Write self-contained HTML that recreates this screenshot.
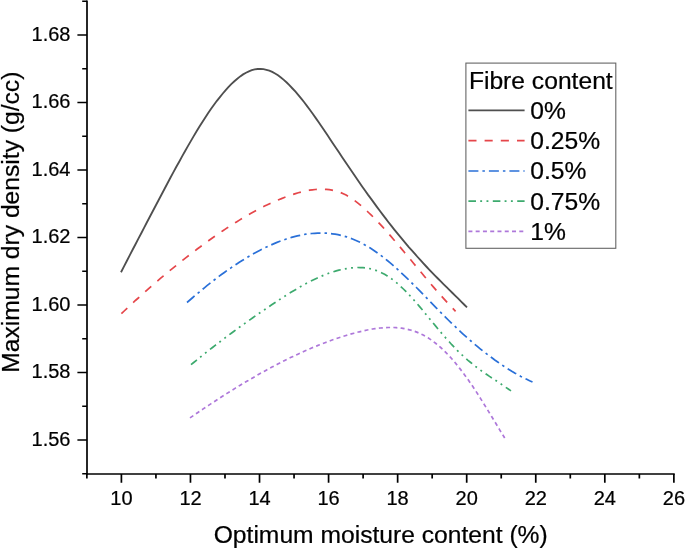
<!DOCTYPE html>
<html><head><meta charset="utf-8"><title>Compaction curves</title>
<style>
html,body{margin:0;padding:0;background:#fff;}
body{width:685px;height:550px;overflow:hidden;}
svg{display:block;}
text{font-family:"Liberation Sans",Arial,sans-serif;fill:#000;stroke:#000;stroke-width:0.22px;}
</style></head><body>
<svg width="685" height="550" viewBox="0 0 685 550">
<rect width="685" height="550" fill="#fff"/>

<g stroke="#000" stroke-width="1.7" fill="none" stroke-linecap="butt">
<path d="M87.0,0.40 V474.85"/>
<path d="M86.15,474.0 H674.73"/>
<path d="M87.0,473.75 h-4.8 M87.0,440.00 h-9.6 M87.0,406.25 h-4.8 M87.0,372.50 h-9.6 M87.0,338.75 h-4.8 M87.0,305.00 h-9.6 M87.0,271.25 h-4.8 M87.0,237.50 h-9.6 M87.0,203.75 h-4.8 M87.0,170.00 h-9.6 M87.0,136.25 h-4.8 M87.0,102.50 h-9.6 M87.0,68.75 h-4.8 M87.0,35.00 h-9.6 M87.0,1.25 h-4.8 M86.87,474.0 v4.4 M121.40,474.0 v8.8 M155.93,474.0 v4.4 M190.46,474.0 v8.8 M224.99,474.0 v4.4 M259.52,474.0 v8.8 M294.05,474.0 v4.4 M328.58,474.0 v8.8 M363.11,474.0 v4.4 M397.64,474.0 v8.8 M432.17,474.0 v4.4 M466.70,474.0 v8.8 M501.23,474.0 v4.4 M535.76,474.0 v8.8 M570.29,474.0 v4.4 M604.82,474.0 v8.8 M639.35,474.0 v4.4 M673.88,474.0 v8.8"/>
</g>
<g font-size="20">
<text x="70.5" y="445.9" text-anchor="end">1.56</text>
<text x="70.5" y="378.4" text-anchor="end">1.58</text>
<text x="70.5" y="310.9" text-anchor="end">1.60</text>
<text x="70.5" y="243.4" text-anchor="end">1.62</text>
<text x="70.5" y="175.9" text-anchor="end">1.64</text>
<text x="70.5" y="108.4" text-anchor="end">1.66</text>
<text x="70.5" y="40.9" text-anchor="end">1.68</text>
<text x="121.4" y="505.4" text-anchor="middle">10</text>
<text x="190.5" y="505.4" text-anchor="middle">12</text>
<text x="259.5" y="505.4" text-anchor="middle">14</text>
<text x="328.6" y="505.4" text-anchor="middle">16</text>
<text x="397.6" y="505.4" text-anchor="middle">18</text>
<text x="466.7" y="505.4" text-anchor="middle">20</text>
<text x="535.8" y="505.4" text-anchor="middle">22</text>
<text x="604.8" y="505.4" text-anchor="middle">24</text>
<text x="673.9" y="505.4" text-anchor="middle">26</text>
</g>
<text transform="translate(380.7,542.7) scale(1.058,1)" font-size="23.3" text-anchor="middle">Optimum moisture content (%)</text>
<text transform="translate(18.6,222.2) rotate(-90) scale(1.058,1)" font-size="23.3" text-anchor="middle">Maximum dry density (g/cc)</text>
<path d="M121.0,272.2 L123.9,266.6 L126.8,261.0 L129.7,255.4 L132.6,249.8 L135.5,244.2 L138.4,238.6 L141.4,233.0 L144.3,227.4 L147.2,221.8 L150.1,216.3 L153.0,210.8 L155.9,205.2 L158.8,199.7 L161.7,194.2 L164.6,188.7 L167.5,183.2 L170.4,177.8 L173.3,172.4 L176.2,167.0 L179.2,161.7 L182.1,156.4 L185.0,151.2 L187.9,146.1 L190.8,141.1 L193.7,136.1 L196.6,131.3 L199.5,126.5 L202.4,121.9 L205.3,117.4 L208.2,113.0 L211.1,108.8 L214.0,104.7 L216.9,100.8 L219.9,97.1 L222.8,93.5 L225.7,90.1 L228.6,86.9 L231.5,83.9 L234.4,81.2 L237.3,78.7 L240.2,76.4 L243.1,74.4 L246.0,72.7 L248.9,71.3 L251.8,70.2 L254.7,69.4 L257.7,69.0 L260.6,69.0 L263.5,69.2 L266.4,69.8 L269.3,70.7 L272.2,71.9 L275.1,73.5 L278.0,75.3 L280.9,77.5 L283.8,79.9 L286.7,82.5 L289.6,85.4 L292.5,88.5 L295.5,91.7 L298.4,95.1 L301.3,98.6 L304.2,102.3 L307.1,106.1 L310.0,110.0 L312.9,114.0 L315.8,118.1 L318.7,122.3 L321.6,126.5 L324.5,130.8 L327.4,135.1 L330.3,139.5 L333.3,143.9 L336.2,148.2 L339.1,152.6 L342.0,156.9 L344.9,161.3 L347.8,165.6 L350.7,169.8 L353.6,174.1 L356.5,178.3 L359.4,182.5 L362.3,186.7 L365.2,190.8 L368.1,194.9 L371.1,198.9 L374.0,202.9 L376.9,206.9 L379.8,210.8 L382.7,214.6 L385.6,218.4 L388.5,222.2 L391.4,225.9 L394.3,229.6 L397.2,233.2 L400.1,236.7 L403.0,240.2 L405.9,243.7 L408.8,247.1 L411.8,250.4 L414.7,253.7 L417.6,257.0 L420.5,260.2 L423.4,263.4 L426.3,266.5 L429.2,269.6 L432.1,272.6 L435.0,275.6 L437.9,278.5 L440.8,281.4 L443.7,284.3 L446.6,287.2 L449.6,290.1 L452.5,293.0 L455.4,295.8 L458.3,298.7 L461.2,301.6 L464.1,304.5 L467.0,307.4" fill="none" stroke="#4f4f4f" stroke-width="1.85"/>
<path d="M121.4,313.7 L124.2,311.0 L127.0,308.4 L129.8,305.7 L132.6,303.1 L135.4,300.5 L138.3,298.0 L141.1,295.4 L143.9,292.9 L146.7,290.4 L149.5,287.9 L152.3,285.4 L155.1,283.0 L157.9,280.6 L160.7,278.2 L163.5,275.8 L166.3,273.5 L169.1,271.1 L172.0,268.8 L174.8,266.6 L177.6,264.3 L180.4,262.0 L183.2,259.8 L186.0,257.6 L188.8,255.5 L191.6,253.3 L194.4,251.2 L197.2,249.0 L200.0,247.0 L202.8,244.9 L205.7,242.8 L208.5,240.8 L211.3,238.8 L214.1,236.8 L216.9,234.8 L219.7,232.9 L222.5,231.0 L225.3,229.1 L228.1,227.3 L230.9,225.4 L233.7,223.6 L236.5,221.9 L239.4,220.1 L242.2,218.4 L245.0,216.8 L247.8,215.1 L250.6,213.5 L253.4,212.0 L256.2,210.5 L259.0,209.0 L261.8,207.5 L264.6,206.1 L267.4,204.8 L270.2,203.4 L273.1,202.2 L275.9,200.9 L278.7,199.7 L281.5,198.6 L284.3,197.5 L287.1,196.4 L289.9,195.4 L292.7,194.5 L295.5,193.6 L298.3,192.8 L301.1,192.0 L303.9,191.3 L306.8,190.7 L309.6,190.2 L312.4,189.8 L315.2,189.5 L318.0,189.3 L320.8,189.2 L323.6,189.3 L326.4,189.4 L329.2,189.7 L332.0,190.2 L334.8,190.8 L337.6,191.5 L340.5,192.5 L343.3,193.7 L346.1,195.1 L348.9,196.7 L351.7,198.5 L354.5,200.5 L357.3,202.7 L360.1,204.9 L362.9,207.3 L365.7,209.9 L368.5,212.5 L371.3,215.2 L374.2,218.0 L377.0,220.9 L379.8,223.9 L382.6,226.9 L385.4,230.0 L388.2,233.2 L391.0,236.4 L393.8,239.7 L396.6,242.9 L399.4,246.3 L402.2,249.6 L405.0,253.0 L407.9,256.4 L410.7,259.8 L413.5,263.2 L416.3,266.6 L419.1,270.0 L421.9,273.3 L424.7,276.7 L427.5,280.0 L430.3,283.4 L433.1,286.6 L435.9,289.9 L438.7,293.1 L441.6,296.3 L444.4,299.4 L447.2,302.5 L450.0,305.5 L452.8,308.4 L455.6,311.3" fill="none" stroke="#E5464A" stroke-width="1.7" stroke-dasharray="8.1 8.1"/>
<path d="M187.0,302.5 L189.9,300.0 L192.8,297.5 L195.7,295.0 L198.6,292.6 L201.5,290.2 L204.4,287.8 L207.3,285.4 L210.2,283.1 L213.1,280.9 L216.0,278.6 L218.9,276.4 L221.8,274.3 L224.7,272.2 L227.6,270.1 L230.6,268.1 L233.5,266.1 L236.4,264.2 L239.3,262.3 L242.2,260.5 L245.1,258.7 L248.0,256.9 L250.9,255.2 L253.8,253.6 L256.7,252.0 L259.6,250.5 L262.5,249.0 L265.4,247.6 L268.3,246.2 L271.2,244.9 L274.1,243.6 L277.0,242.4 L279.9,241.3 L282.8,240.2 L285.7,239.2 L288.6,238.3 L291.5,237.4 L294.4,236.6 L297.3,235.9 L300.2,235.3 L303.1,234.7 L306.0,234.2 L308.9,233.8 L311.8,233.5 L314.7,233.3 L317.7,233.1 L320.6,233.1 L323.5,233.1 L326.4,233.2 L329.3,233.5 L332.2,233.8 L335.1,234.2 L338.0,234.7 L340.9,235.4 L343.8,236.1 L346.7,236.9 L349.6,237.9 L352.5,239.0 L355.4,240.2 L358.3,241.5 L361.2,242.9 L364.1,244.4 L367.0,246.1 L369.9,247.8 L372.8,249.7 L375.7,251.7 L378.6,253.8 L381.5,255.9 L384.4,258.2 L387.3,260.5 L390.2,262.9 L393.1,265.4 L396.0,268.0 L398.9,270.6 L401.8,273.3 L404.8,276.1 L407.7,278.9 L410.6,281.7 L413.5,284.6 L416.4,287.5 L419.3,290.4 L422.2,293.4 L425.1,296.4 L428.0,299.4 L430.9,302.3 L433.8,305.3 L436.7,308.3 L439.6,311.3 L442.5,314.2 L445.4,317.1 L448.3,320.0 L451.2,322.8 L454.1,325.6 L457.0,328.4 L459.9,331.1 L462.8,333.8 L465.7,336.4 L468.6,339.0 L471.5,341.5 L474.4,344.0 L477.3,346.4 L480.2,348.8 L483.1,351.2 L486.0,353.4 L488.9,355.7 L491.9,357.8 L494.8,360.0 L497.7,362.0 L500.6,364.0 L503.5,366.0 L506.4,367.9 L509.3,369.7 L512.2,371.5 L515.1,373.2 L518.0,374.8 L520.9,376.4 L523.8,377.9 L526.7,379.3 L529.6,380.7 L532.5,382.0" fill="none" stroke="#2A70D8" stroke-width="1.7" stroke-dasharray="10 4 2.5 4"/>
<path d="M191.0,364.7 L193.7,362.5 L196.4,360.3 L199.1,358.1 L201.8,355.9 L204.4,353.8 L207.1,351.7 L209.8,349.6 L212.5,347.5 L215.2,345.4 L217.9,343.3 L220.6,341.3 L223.3,339.2 L226.0,337.2 L228.6,335.2 L231.3,333.2 L234.0,331.2 L236.7,329.2 L239.4,327.3 L242.1,325.4 L244.8,323.4 L247.5,321.5 L250.2,319.6 L252.8,317.7 L255.5,315.8 L258.2,314.0 L260.9,312.1 L263.6,310.3 L266.3,308.5 L269.0,306.6 L271.7,304.8 L274.4,303.0 L277.1,301.2 L279.7,299.5 L282.4,297.7 L285.1,296.0 L287.8,294.3 L290.5,292.6 L293.2,291.0 L295.9,289.4 L298.6,287.8 L301.3,286.2 L303.9,284.7 L306.6,283.3 L309.3,281.9 L312.0,280.5 L314.7,279.2 L317.4,278.0 L320.1,276.8 L322.8,275.6 L325.5,274.5 L328.1,273.5 L330.8,272.6 L333.5,271.7 L336.2,270.9 L338.9,270.2 L341.6,269.6 L344.3,269.0 L347.0,268.5 L349.7,268.1 L352.3,267.8 L355.0,267.6 L357.7,267.5 L360.4,267.6 L363.1,267.7 L365.8,268.0 L368.5,268.4 L371.2,268.9 L373.9,269.7 L376.5,270.6 L379.2,271.7 L381.9,272.9 L384.6,274.3 L387.3,275.9 L390.0,277.7 L392.7,279.7 L395.4,281.8 L398.1,284.0 L400.7,286.5 L403.4,289.0 L406.1,291.7 L408.8,294.5 L411.5,297.4 L414.2,300.4 L416.9,303.5 L419.6,306.6 L422.3,309.8 L424.9,313.1 L427.6,316.3 L430.3,319.6 L433.0,322.9 L435.7,326.1 L438.4,329.4 L441.1,332.6 L443.8,335.7 L446.5,338.8 L449.2,341.8 L451.8,344.7 L454.5,347.5 L457.2,350.3 L459.9,352.9 L462.6,355.5 L465.3,357.9 L468.0,360.3 L470.7,362.5 L473.4,364.7 L476.0,366.8 L478.7,368.8 L481.4,370.8 L484.1,372.7 L486.8,374.5 L489.5,376.4 L492.2,378.2 L494.9,379.9 L497.6,381.7 L500.2,383.5 L502.9,385.3 L505.6,387.2 L508.3,389.0 L511.0,390.9" fill="none" stroke="#3DAA6E" stroke-width="1.7" stroke-dasharray="7.6 4.2 1.9 4.4 1.9 4.4"/>
<path d="M190.0,417.9 L192.6,416.1 L195.3,414.3 L197.9,412.5 L200.6,410.7 L203.2,408.9 L205.9,407.1 L208.5,405.4 L211.2,403.6 L213.8,401.9 L216.4,400.2 L219.1,398.4 L221.7,396.7 L224.4,395.1 L227.0,393.4 L229.7,391.7 L232.3,390.1 L235.0,388.4 L237.6,386.8 L240.2,385.2 L242.9,383.6 L245.5,382.0 L248.2,380.5 L250.8,378.9 L253.5,377.4 L256.1,375.9 L258.8,374.3 L261.4,372.9 L264.0,371.4 L266.7,369.9 L269.3,368.5 L272.0,367.1 L274.6,365.7 L277.3,364.3 L279.9,362.9 L282.6,361.6 L285.2,360.2 L287.8,358.9 L290.5,357.6 L293.1,356.4 L295.8,355.1 L298.4,353.9 L301.1,352.7 L303.7,351.5 L306.4,350.3 L309.0,349.2 L311.6,348.0 L314.3,346.9 L316.9,345.9 L319.6,344.8 L322.2,343.8 L324.9,342.7 L327.5,341.8 L330.2,340.8 L332.8,339.8 L335.4,338.9 L338.1,338.0 L340.7,337.2 L343.4,336.3 L346.0,335.5 L348.7,334.7 L351.3,333.9 L354.0,333.2 L356.6,332.5 L359.3,331.8 L361.9,331.2 L364.5,330.6 L367.2,330.0 L369.8,329.5 L372.5,329.0 L375.1,328.6 L377.8,328.3 L380.4,328.0 L383.1,327.8 L385.7,327.6 L388.3,327.5 L391.0,327.5 L393.6,327.5 L396.3,327.7 L398.9,327.9 L401.6,328.2 L404.2,328.6 L406.9,329.2 L409.5,329.8 L412.1,330.5 L414.8,331.4 L417.4,332.4 L420.1,333.6 L422.7,334.8 L425.4,336.3 L428.0,337.8 L430.7,339.6 L433.3,341.5 L435.9,343.5 L438.6,345.7 L441.2,348.0 L443.9,350.5 L446.5,353.2 L449.2,355.9 L451.8,358.8 L454.5,361.9 L457.1,365.1 L459.7,368.4 L462.4,371.8 L465.0,375.4 L467.7,379.1 L470.3,382.9 L473.0,386.8 L475.6,390.8 L478.3,394.9 L480.9,399.1 L483.5,403.3 L486.2,407.6 L488.8,411.9 L491.5,416.3 L494.1,420.6 L496.8,425.0 L499.4,429.4 L502.1,433.7 L504.7,438.0" fill="none" stroke="#AE78DA" stroke-width="1.7" stroke-dasharray="4 3.27"/>
<rect x="465.9" y="63.1" width="149.9" height="185.2" fill="#fff" stroke="#666" stroke-width="1.1"/>
<text transform="translate(468.9,88.5) scale(1.058,1)" font-size="23.3">Fibre content</text>
<path d="M468.4,110.3 H524.6" fill="none" stroke="#4f4f4f" stroke-width="1.85"/>
<text transform="translate(530.2,118.8) scale(1.058,1)" font-size="23.3">0%</text>
<path d="M468.4,140.7 H524.6" fill="none" stroke="#E5464A" stroke-width="1.7" stroke-dasharray="8.1 8.1"/>
<text transform="translate(530.2,148.9) scale(1.058,1)" font-size="23.3">0.25%</text>
<path d="M468.4,171.0 H524.6" fill="none" stroke="#2A70D8" stroke-width="1.7" stroke-dasharray="10 4 2.5 4"/>
<text transform="translate(530.2,179.3) scale(1.058,1)" font-size="23.3">0.5%</text>
<path d="M468.4,201.1 H524.6" fill="none" stroke="#3DAA6E" stroke-width="1.7" stroke-dasharray="7.6 4.2 1.9 4.4 1.9 4.4"/>
<text transform="translate(530.2,209.6) scale(1.058,1)" font-size="23.3">0.75%</text>
<path d="M468.4,231.4 H524.6" fill="none" stroke="#AE78DA" stroke-width="1.7" stroke-dasharray="4 3.27"/>
<text transform="translate(530.2,239.5) scale(1.058,1)" font-size="23.3">1%</text>
</svg></body></html>
